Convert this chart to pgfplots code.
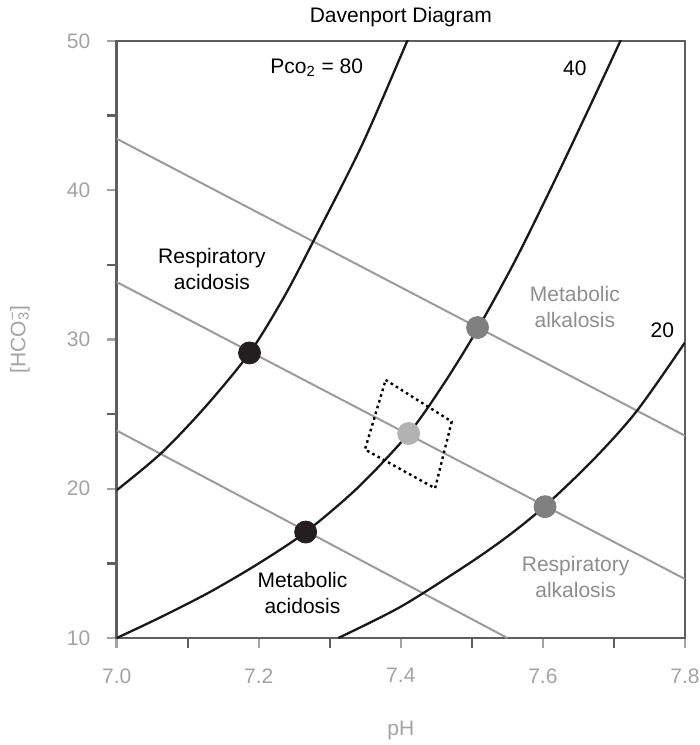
\documentclass[border=0pt]{standalone}
\usepackage{fontspec}
\setmainfont{Liberation Sans}
\usepackage{pgfplots}
\pgfplotsset{compat=1.18}

\definecolor{axisgray}{HTML}{5E5E5E}
\definecolor{labelgray}{HTML}{A3A3A3}
\definecolor{linegray}{HTML}{9B9B9B}
\definecolor{textgray}{HTML}{8E8E8E}
\definecolor{ptdark}{HTML}{231F20}
\definecolor{ptmid}{HTML}{808080}
\definecolor{ptlight}{HTML}{B2B2B2}

\begin{document}
\fontsize{10.5}{12.6}\selectfont
\begin{tikzpicture}
\begin{axis}[
  scale only axis, width=284.15pt, height=298.5pt,
  xmin=7.0, xmax=7.8, ymin=10, ymax=50,
  xtick={7.0,7.2,7.4,7.6,7.8}, xticklabels={7.0,7.2,7.4,7.6,7.8},
  minor xtick={7.1,7.3,7.5,7.7},
  ytick={10,20,30,40,50}, yticklabels={10,20,30,40,50},
  minor ytick={15,25,35,45},
  tick align=outside, tick pos=left,
  major tick length=5pt, minor tick length=5pt,
  axis line style={axisgray, line width=1.3pt},
  major tick style={labelgray, line width=1.2pt},
  minor tick style={axisgray, line width=1.2pt},
  /pgf/number format/assume math mode=true,
  every tick label/.append style={font=\fontsize{10.5}{12.6}\selectfont, text=labelgray},
  xticklabel style={yshift=-6.5pt},
  yticklabel style={xshift=-4.5pt},
  title={Davenport Diagram},
  every axis title/.style={at={(axis description cs:0.5,1.0402)}, anchor=center, font=\fontsize{10.5}{12.6}\selectfont},
  xlabel={pH},
  xlabel style={at={(axis description cs:0.5,-0.1541)}, anchor=center, text=labelgray, font=\fontsize{10.5}{12.6}\selectfont},
  ylabel={[HCO\rlap{\textsuperscript{−}}\textsubscript{3}]},
  ylabel style={at={(axis description cs:-0.1702,0.5)}, anchor=center, text=labelgray, font=\fontsize{10.5}{12.6}\selectfont},
  clip=true,
]
% buffer lines
\addplot[linegray, line width=1pt] coordinates {(7.0,43.45) (7.8,23.55)};
\addplot[linegray, line width=1pt] coordinates {(7.0,33.85) (7.8,13.95)};
\addplot[linegray, line width=1pt] coordinates {(7.0,23.9) (7.55,10.0)};

% isobars
\addplot[black!90, line width=1.15pt, smooth] coordinates {
  (7.000,19.9) (7.063,22.4) (7.125,25.5) (7.187,29.1) (7.235,32.8)
  (7.277,36.6) (7.345,43.0) (7.409,50.0) (7.420,51.2)};
\addplot[black!90, line width=1.15pt, smooth] coordinates {
  (7.000,10.0) (7.060,11.35) (7.130,13.05) (7.200,15.0) (7.266,17.1)
  (7.340,20.1) (7.411,23.7) (7.460,27.0) (7.508,30.7) (7.560,35.2)
  (7.610,40.0) (7.660,45.0) (7.709,50.0) (7.720,51.2)};
\addplot[black!90, line width=1.15pt, smooth] coordinates {
  (7.312,10.0) (7.400,12.1) (7.493,14.9) (7.550,16.8) (7.603,18.85)
  (7.670,21.9) (7.732,25.2) (7.800,29.8)};

% normal range
\addplot[black, line width=1.2pt, dash pattern=on 1.3pt off 1.7pt] coordinates {
  (7.3786,27.29) (7.4716,24.50) (7.4482,20.03) (7.3495,22.63) (7.3786,27.29)};

% states
\addplot[only marks, mark=*, mark size=5.5pt, ptdark] coordinates {(7.187,29.1) (7.266,17.1)};
\addplot[only marks, mark=*, mark size=5.5pt, ptmid] coordinates {(7.508,30.8) (7.603,18.8)};
\addplot[only marks, mark=*, mark size=5.5pt, ptlight] coordinates {(7.411,23.7)};

\node at (axis cs:7.2815,48.2) {Pco\textsubscript{2} = 80};
\node at (axis cs:7.645,48.2) {40};
\node at (axis cs:7.768,30.64) {20};
\node[align=center, text=textgray] at (axis cs:7.645,32.18) {Metabolic\\alkalosis};
\node[align=center] at (axis cs:7.134,34.72) {Respiratory\\acidosis};
\node[align=center] at (axis cs:7.2615,13.02) {Metabolic\\acidosis};
\node[align=center, text=textgray] at (axis cs:7.646,14.09) {Respiratory\\alkalosis};
\end{axis}
\pgfresetboundingbox
\path[use as bounding box] ([xshift=-58.35pt,yshift=-53.5pt]current axis.south west) rectangle ([xshift=7.5pt,yshift=20.5pt]current axis.north east);
\end{tikzpicture}
\end{document}
